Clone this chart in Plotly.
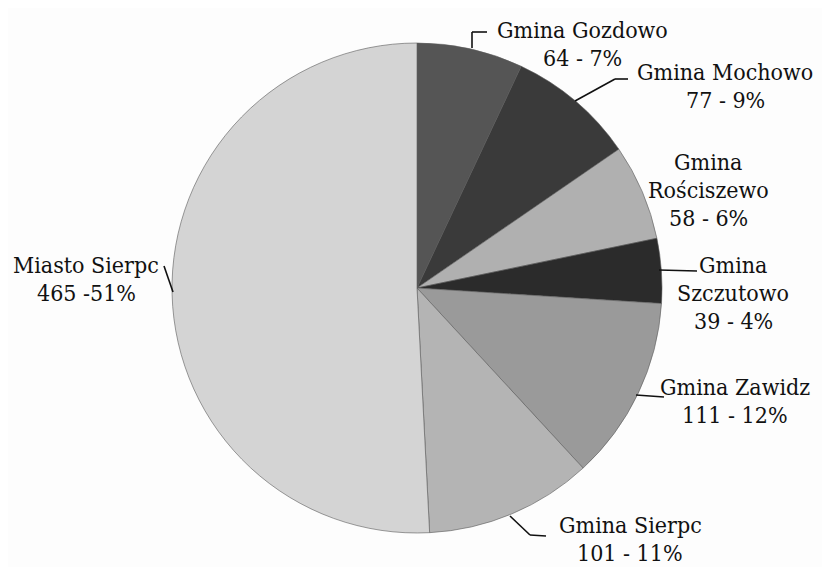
import plotly.graph_objects as go

W, H = 830, 567
OFF = 8  # page body margin offset

categories = ["Gmina Gozdowo", "Gmina Mochowo", "Gmina Rościszewo", "Gmina Szczutowo",
              "Gmina Zawidz", "Gmina Sierpc", "Miasto Sierpc"]
values = [64, 77, 58, 39, 111, 101, 465]
percent_labels = ["7%", "9%", "6%", "4%", "12%", "11%", "51%"]
separators = [" - ", " - ", " - ", " - ", " - ", " - ", " -"]
# how each label's name is broken into lines
name_lines = [["Gmina Gozdowo"], ["Gmina Mochowo"], ["Gmina", "Rościszewo"],
              ["Gmina", "Szczutowo"], ["Gmina Zawidz"], ["Gmina Sierpc"], ["Miasto Sierpc"]]
colors = ["#555555", "#3a3a3a", "#b0b0b0", "#2b2b2b", "#9a9a9a", "#b4b4b4", "#d4d4d4"]

# label layout (pixel positions of first line centre, line step) and leader lines
label_pos = [(582, 30), (725, 72), (708, 162), (733, 265), (735, 387), (630, 525), (86, 265)]
line_step = 28
leaders = [
    [(472, 48), (472, 32), (487, 32)],
    [(575, 101), (615, 79), (628, 79)],
    None,
    [(659, 270), (697, 271)],
    [(636, 395), (664, 397)],
    [(510, 516), (530, 535), (546, 536)],
    [(164, 266), (173, 292)],
]

def px(x):
    return (x - OFF) / W

def py(y):
    return 1 - (y - OFF) / H

fig = go.Figure(go.Pie(
    labels=categories,
    values=values,
    sort=False,
    direction="clockwise",
    rotation=0,
    textinfo="none",
    hoverinfo="label+value+percent",
    marker=dict(colors=colors, line=dict(color="#5a5a5a", width=0.6)),
    domain=dict(x=[px(172), px(662)], y=[py(533), py(43)]),
    showlegend=False,
))

annotations = []
shapes = []
font = dict(family="DejaVu Serif Condensed, DejaVu Serif", size=23, color="#111111")
for i in range(len(values)):
    lines = name_lines[i] + [f"{values[i]}{separators[i]}{percent_labels[i]}"]
    cx, cy = label_pos[i]
    for j, t in enumerate(lines):
        annotations.append(dict(
            x=px(cx), y=py(cy + j * line_step), xref="paper", yref="paper",
            text=t, showarrow=False, xanchor="center", yanchor="middle", font=font,
        ))
    if leaders[i]:
        pts = leaders[i]
        for a, b in zip(pts[:-1], pts[1:]):
            shapes.append(dict(type="line", xref="paper", yref="paper",
                               x0=px(a[0]), y0=py(a[1]), x1=px(b[0]), y1=py(b[1]),
                               line=dict(color="#111111", width=1.6)))

fig.update_layout(
    width=W, height=H,
    margin=dict(l=0, r=0, t=0, b=0),
    paper_bgcolor="#fdfdfd",
    plot_bgcolor="#fdfdfd",
    annotations=annotations,
    shapes=shapes,
)

fig.write_html("out.html")
